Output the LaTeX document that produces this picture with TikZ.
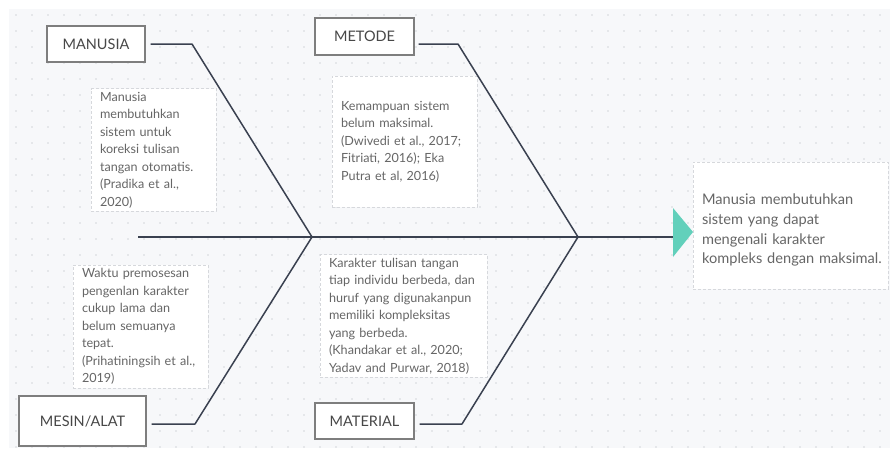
\documentclass[tikz,border=0pt]{standalone}
\usepackage{xcolor}
\usepackage{fontspec}
\setmainfont{Lato}
\usepackage{tikz}
\usetikzlibrary{positioning, calc}
\definecolor{paperbg}{HTML}{F7F8FA}
\definecolor{griddot}{HTML}{D3D6DB}
\definecolor{boneline}{HTML}{3A4150}
\definecolor{boxedge}{HTML}{7E7E7E}
\definecolor{labeltext}{HTML}{474747}
\definecolor{notetext}{HTML}{666666}
\definecolor{noteedge}{HTML}{D6D8DC}
\definecolor{headteal}{HTML}{62D0BB}
\newcommand{\susun}[1]{\begin{tabular}{@{}l@{}}#1\end{tabular}}

\begin{document}
\begin{tikzpicture}[x=1pt, y=-1pt,
	catbox/.style={draw=boxedge, line width=1.4pt, fill=white, text=labeltext, font=\fontsize{14.5}{17}\selectfont, inner sep=0pt},
	notebox/.style={draw=noteedge, densely dashed, line width=0.6pt, fill=white, text=notetext, font=\fontsize{12.6}{17.5}\selectfont, align=left, inner xsep=9pt, inner ysep=0pt},
	bone/.style={draw=boneline, line width=1.5pt, line join=round}]
							\useasboundingbox (0,0) rectangle (890,448);
							\fill[white] (0,0) rectangle (890,448);
							\fill[paperbg] (9,9) rectangle (890,448);
							\foreach \gx in {16,32,...,888}
								\foreach \gy in {15,31,...,447}
									\fill[griddot] (\gx,\gy) circle (0.8);
							
							\node[catbox, minimum width=98, minimum height=36] (manusia) at (96,44) {MANUSIA};
							\node[catbox, minimum width=99, minimum height=37] (metode) at (364.5,36.5) {METODE};
							\node[catbox, minimum width=127, minimum height=50] (mesin) at (82.5,421) {MESIN/ALAT};
							\node[catbox, minimum width=99, minimum height=36] (material) at (364.5,421) {MATERIAL};
							
							\node[notebox, text width=107, minimum height=116] (notemanusia) at (153.5,150) {\susun{Manusia\\membutuhkan\\sistem untuk\\koreksi tulisan\\tangan otomatis.\\(Pradika et al.,\\2020)}};
							\node[notebox, text width=127, minimum height=131] (notemetode) at (404.5,141.5) {\susun{Kemampuan sistem\\belum maksimal.\\(Dwivedi et al., 2017;\\Fitriati, 2016); Eka\\Putra et al, 2016)}};
							\node[notebox, text width=117, minimum height=123] (notemesin) at (140.5,326.5) {\susun{Waktu premosesan\\pengenlan karakter\\cukup lama dan\\belum semuanya\\tepat.\\(Prihatiningsih et al.,\\2019)}};
							\node[notebox, text width=149, minimum height=120] (notematerial) at (403.5,316) {\susun{Karakter tulisan tangan\\tiap individu berbeda, dan\\huruf yang digunakanpun\\memiliki kompleksitas\\yang berbeda.\\(Khandakar et al., 2020;\\Yadav and Purwar, 2018)}};
							\node[notebox, inner xsep=9pt, text width=177, minimum height=127, font=\fontsize{14.6}{19.7}\selectfont] (akibat) at (790.5,225.5) {\raisebox{-5pt}[\height][\depth]{\susun{Manusia membutuhkan\\sistem yang dapat\\mengenali karakter\\kompleks dengan maksimal.}}};
							
							\coordinate (ekor) at (138,237);
							\coordinate (kepala) at (673,237);
							\coordinate (sendi1) at (312,237);
							\coordinate (sendi2) at (578,237);
							\coordinate (tekukmanusia) at (192,44);
							\coordinate (tekukmetode) at (458,44);
							\coordinate (tekukmesin) at (195,424);
							\coordinate (tekukmaterial) at (462,424);
							
							\fill[headteal] (673,208) -- (693,232) -- (673,257) -- cycle;
							\draw[bone] (ekor) -- (kepala);
							\draw[bone, shorten <=5pt] (manusia.east) -- (tekukmanusia) -- (sendi1);
							\draw[bone, shorten <=4pt] (metode.east |- tekukmetode) -- (tekukmetode) -- (sendi2);
							\draw[bone, shorten <=5pt] (mesin.east |- tekukmesin) -- (tekukmesin) -- (sendi1);
							\draw[bone, shorten <=5pt] (material.east |- tekukmaterial) -- (tekukmaterial) -- (sendi2);
\end{tikzpicture}
\end{document}
